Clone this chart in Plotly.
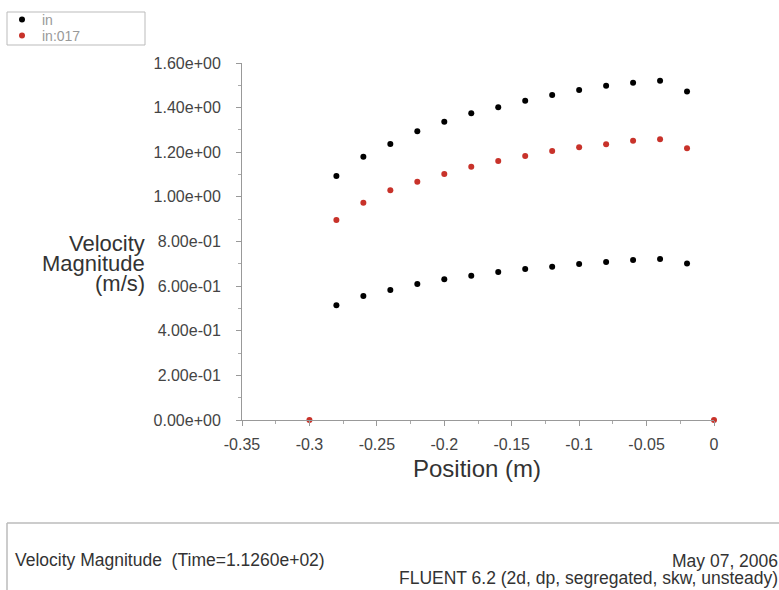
import plotly.graph_objects as go

# positions along the surface (m)
pos_in = [-0.28, -0.26, -0.24, -0.22, -0.20, -0.18, -0.16, -0.14, -0.12, -0.10, -0.08, -0.06, -0.04, -0.02]
vel_in_upper = [1.094, 1.180, 1.237, 1.294, 1.337, 1.375, 1.402, 1.431, 1.457, 1.479, 1.498, 1.512, 1.521, 1.472]
vel_in_lower = [0.514, 0.556, 0.583, 0.610, 0.631, 0.647, 0.663, 0.677, 0.687, 0.699, 0.708, 0.717, 0.722, 0.701]

pos_017 = [-0.30, -0.28, -0.26, -0.24, -0.22, -0.20, -0.18, -0.16, -0.14, -0.12, -0.10, -0.08, -0.06, -0.04, -0.02, 0.0]
vel_017 = [0.0, 0.896, 0.974, 1.030, 1.068, 1.103, 1.135, 1.161, 1.183, 1.206, 1.222, 1.236, 1.251, 1.258, 1.218, 0.0]

y_ticks = [0.0, 0.2, 0.4, 0.6, 0.8, 1.0, 1.2, 1.4, 1.6]
x_ticks = [-0.35, -0.3, -0.25, -0.2, -0.15, -0.1, -0.05, 0]
x_tick_text = ["-0.35", "-0.3", "-0.25", "-0.2", "-0.15", "-0.1", "-0.05", "0"]

W, H = 779, 590
L, R, T, B = 242, 65, 63, 170
PW, PH = W - L - R, H - T - B


def px(x):
    return (x - L) / PW


def py(y):
    return (H - B - y) / PH


FONT = "Liberation Sans, Arial, sans-serif"
RED = "#c8322a"

fig = go.Figure()
fig.add_trace(go.Scatter(x=pos_in, y=vel_in_upper, mode="markers", name="in", legendgroup="in",
                         marker=dict(color="black", size=6), cliponaxis=False, legend="legend"))
fig.add_trace(go.Scatter(x=pos_017, y=vel_017, mode="markers", name="in:017",
                         marker=dict(color=RED, size=6), cliponaxis=False, legend="legend2"))
fig.add_trace(go.Scatter(x=pos_in, y=vel_in_lower, mode="markers", name="in", legendgroup="in",
                         showlegend=False, marker=dict(color="black", size=6), cliponaxis=False))

axis_common = dict(showgrid=False, zeroline=False, showline=True, linecolor="#999", linewidth=1,
                   ticks="outside", ticklen=5, tickcolor="#999", automargin=False,
                   tickfont=dict(family=FONT, size=16, color="#444"))

fig.update_xaxes(range=[-0.35, 0], tickvals=x_ticks, ticktext=x_tick_text, ticklabelstandoff=5,
                 minor=dict(dtick=0.025, ticklen=3, tickcolor="#aaa", ticks="outside"), **axis_common)
fig.update_yaxes(range=[0, 1.6], tickvals=y_ticks, ticktext=[f"{v:.2e}" for v in y_ticks],
                 ticklabelstandoff=12,
                 minor=dict(dtick=0.1, ticklen=3, tickcolor="#aaa", ticks="outside"), **axis_common)

annotations = []
for text, yy in [("Velocity", 243), ("Magnitude", 263), ("(m/s)", 283)]:
    annotations.append(dict(text=text, x=px(147), y=py(yy), xref="paper", yref="paper",
                            xanchor="right", yanchor="middle", showarrow=False,
                            font=dict(family=FONT, size=22, color="#333")))
annotations.append(dict(text="Position (m)", x=px(477), y=py(468), xref="paper", yref="paper",
                        xanchor="center", yanchor="middle", showarrow=False,
                        font=dict(family=FONT, size=24, color="#333")))
annotations.append(dict(text="Velocity Magnitude  (Time=1.1260e+02)", x=px(13), y=py(560),
                        xref="paper", yref="paper", xanchor="left", yanchor="middle", showarrow=False,
                        font=dict(family=FONT, size=17.5, color="#333")))
annotations.append(dict(text="May 07, 2006", x=px(780), y=py(561), xref="paper", yref="paper",
                        xanchor="right", yanchor="middle", showarrow=False,
                        font=dict(family=FONT, size=17.5, color="#333")))
annotations.append(dict(text="FLUENT 6.2 (2d, dp, segregated, skw, unsteady)", x=px(780), y=py(578),
                        xref="paper", yref="paper", xanchor="right", yanchor="middle", showarrow=False,
                        font=dict(family=FONT, size=17.5, color="#333")))

shapes = [
    # legend frame
    dict(type="rect", xref="paper", yref="paper", x0=px(7), x1=px(145), y0=py(12), y1=py(45),
         line=dict(color="#bbb", width=1)),
    # bottom info box
    dict(type="line", xref="paper", yref="paper", x0=px(7), x1=px(800), y0=py(523), y1=py(523),
         line=dict(color="#bbb", width=1.5)),
    dict(type="line", xref="paper", yref="paper", x0=px(7), x1=px(7), y0=py(523), y1=py(600),
         line=dict(color="#bbb", width=1.5)),
]

legend_style = dict(xanchor="left", yanchor="middle", bgcolor="rgba(0,0,0,0)",
                    font=dict(family=FONT, size=14, color="#999"), itemwidth=30)

fig.update_layout(
    width=W, height=H, autosize=False,
    margin=dict(l=L, r=R, t=T, b=B, autoexpand=False),
    plot_bgcolor="white", paper_bgcolor="white",
    showlegend=True,
    legend=dict(x=px(2), y=py(20), **legend_style),
    legend2=dict(x=px(2), y=py(36), **legend_style),
    annotations=annotations,
    shapes=shapes,
)

fig.write_html("out.html", config={"displayModeBar": False},
               post_script="document.body.style.margin='0';")
